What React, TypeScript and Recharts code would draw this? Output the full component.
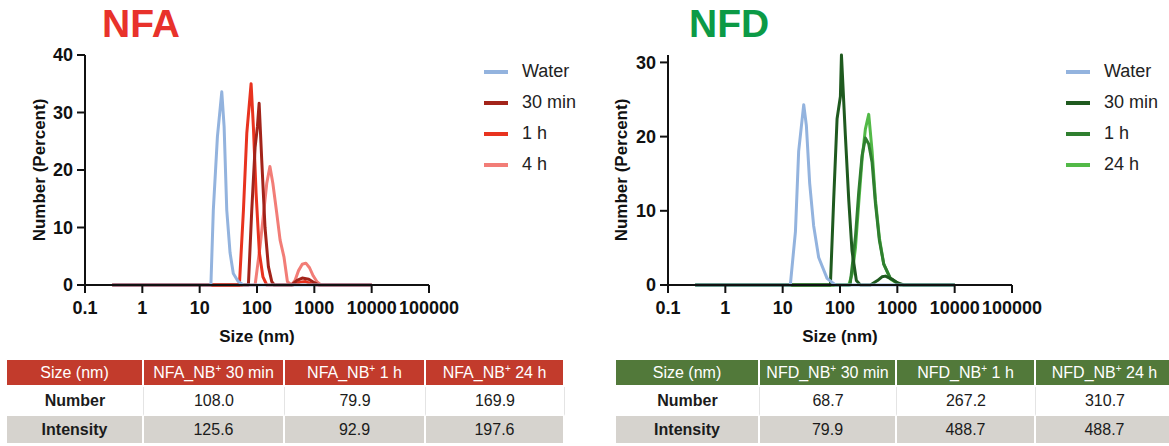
import { LineChart, Line, XAxis, YAxis, Legend, Label } from "recharts";

// [size nm, number %]
type Pt = [number, number];

const sizeTicks = [0.1, 1, 10, 100, 1000, 10000, 100000];
const nfaPctTicks = [0, 10, 20, 30, 40];
const nfdPctTicks = [0, 10, 20, 30];

const nfaWater: Pt[] = [
  [0.3, 0], [15.7, 0], [17.3, 13], [20.4, 25.8], [24.3, 33.6], [26.7, 27.5],
  [29.7, 13], [33.9, 5.6], [38.6, 2], [47, 0.6], [58, 0], [10000, 0],
];
const nfa30min: Pt[] = [
  [0.3, 0], [70.8, 0], [81, 13], [92.7, 24], [101.6, 27.5], [108.9, 31.6],
  [121, 21.7], [138, 10], [158, 3.2], [181, 0.6], [200, 0], [400, 0],
  [500, 0.8], [615, 1.2], [800, 1.0], [1000, 0.4], [1200, 0], [10000, 0],
];
const nfa1h: Pt[] = [
  [0.3, 0], [49.3, 0], [58, 13], [66.4, 26.4], [78.9, 35], [86.5, 27.5],
  [96.4, 16], [110, 5.6], [127, 1.4], [148, 0], [420, 0], [560, 0.5],
  [700, 0.6], [900, 0.2], [1100, 0], [10000, 0],
];
const nfa4h: Pt[] = [
  [0.3, 0], [92.7, 0], [113, 6.7], [138, 14.8], [148, 17.7], [168, 20.6],
  [189, 17.7], [221, 12.5], [253, 7.8], [295, 4.9], [339, 0.6], [400, 0],
  [460, 0.8], [530, 2.5], [615, 3.6], [712, 3.8], [825, 3.0], [955, 1.6],
  [1106, 0.6], [1300, 0], [10000, 0],
];

const nfdWater: Pt[] = [
  [0.3, 0], [13.6, 0], [16.7, 7.2], [19, 18], [23.3, 24.3], [25.9, 21.5],
  [29.6, 13.7], [34.7, 8], [42.5, 3.7], [59.5, 0.9], [83, 0], [10000, 0],
];
const nfd30min: Pt[] = [
  [0.3, 0], [68, 0], [77.6, 11.5], [88.9, 22.4], [101.6, 25.4], [106, 31],
  [124, 20.2], [142, 11.5], [162, 4.6], [193, 0.6], [227, 0], [339, 0],
  [450, 0.6], [540, 1.1], [620, 1.2], [800, 0.8], [1000, 0.3], [1295, 0],
  [10000, 0],
];
const nfd1h: Pt[] = [
  [0.3, 0], [150, 0], [163, 2.5], [186, 6.5], [212, 12.5], [243, 17.5],
  [277, 19.8], [317, 19], [363, 16.5], [415, 11], [487, 6], [580, 2.8],
  [758, 0.9], [1133, 0], [10000, 0],
];
const nfd24h: Pt[] = [
  [0.3, 0], [142, 0], [163, 1.5], [186, 5], [212, 11], [243, 17],
  [277, 21], [317, 23], [363, 18], [415, 11.5], [487, 6.3], [580, 2.8],
  [758, 0.8], [1106, 0], [10000, 0],
];

const nfaNames = ["Water", "30 min", "1 h", "4 h"];
const nfdNames = ["Water", "30 min", "1 h", "24 h"];

// table contents
const nfaHead = ["NFA_NB", "NFA_NB", "NFA_NB"];
const nfdHead = ["NFD_NB", "NFD_NB", "NFD_NB"];
const headTimes = ["30 min", "1 h", "24 h"];
const nfaNumber = ["108.0", "79.9", "169.9"];
const nfaIntensity = ["125.6", "92.9", "197.6"];
const nfdNumber = ["68.7", "267.2", "310.7"];
const nfdIntensity = ["79.9", "488.7", "488.7"];

const FONT = '"Liberation Sans", Arial, Helvetica, sans-serif';
const WATER = "#93b3de";

type Series = { name: string; color: string; data: Pt[] };

// drawn back to front, water on top
const nfaSeries: Series[] = [
  { name: "4 h", color: "#f27d77", data: nfa4h },
  { name: "1 h", color: "#e8331f", data: nfa1h },
  { name: "30 min", color: "#a3241a", data: nfa30min },
  { name: "Water", color: WATER, data: nfaWater },
];
const nfdSeries: Series[] = [
  { name: "24 h", color: "#52b947", data: nfd24h },
  { name: "1 h", color: "#2f7f2f", data: nfd1h },
  { name: "30 min", color: "#1f5a1f", data: nfd30min },
  { name: "Water", color: WATER, data: nfdWater },
];

const toRows = (pts: Pt[]) => pts.map(([size, pct]) => ({ size, pct }));

const axisStroke = { stroke: "#111", strokeWidth: 2 };
const tickFont = { fill: "#111", fontSize: 18, fontWeight: 700, fontFamily: FONT };

const LegendBox = ({ payload, order }: any) => {
  const items = order
    .map((n: string) => (payload || []).find((p: any) => p.value === n))
    .filter(Boolean);
  return (
    <div style={{ fontFamily: FONT }}>
      {items.map((p: any) => (
        <div key={p.value} style={{ display: "flex", alignItems: "center", height: 31 }}>
          <span style={{ display: "inline-block", width: 24, height: 4, background: p.color, marginRight: 14 }} />
          <span style={{ fontSize: 18, color: "#222" }}>{p.value}</span>
        </div>
      ))}
    </div>
  );
};

function DlsChart(props: {
  left: number;
  width: number;
  marginLeft: number;
  marginRight: number;
  legendLeft: number;
  yLabelOffset: number;
  yMax: number;
  yTicks: number[];
  series: Series[];
  names: string[];
  title: string;
  titleColor: string;
  titleLeft: number;
}) {
  return (
    <>
      <div
        style={{
          position: "absolute",
          left: props.titleLeft,
          top: 4,
          fontFamily: FONT,
          fontWeight: 700,
          fontSize: 39,
          lineHeight: "39px",
          color: props.titleColor,
        }}
      >
        {props.title}
      </div>
      <div style={{ position: "absolute", left: props.left, top: 0 }}>
        <LineChart
          width={props.width}
          height={350}
          margin={{ top: 55, right: props.marginRight, bottom: 7, left: props.marginLeft }}
        >
          <XAxis
            type="number"
            dataKey="size"
            scale="log"
            domain={[0.1, 100000]}
            ticks={sizeTicks}
            interval={0}
            allowDataOverflow
            height={58}
            tickSize={8}
            tickMargin={8}
            axisLine={axisStroke}
            tickLine={axisStroke}
            tick={tickFont}
          >
            <Label
              value="Size (nm)"
              position="insideBottom"
              offset={1}
              fill="#111"
              fontSize={17}
              fontWeight={700}
              fontFamily={FONT}
            />
          </XAxis>
          <YAxis
            type="number"
            domain={[0, props.yMax]}
            ticks={props.yTicks}
            interval={0}
            width={60}
            tickSize={8}
            tickMargin={4}
            axisLine={axisStroke}
            tickLine={axisStroke}
            tick={tickFont}
          >
            <Label
              value="Number (Percent)"
              position="insideLeft"
              angle={-90}
              offset={props.yLabelOffset}
              fill="#111"
              fontSize={17}
              fontWeight={700}
              fontFamily={FONT}
              style={{ textAnchor: "middle" }}
            />
          </YAxis>
          {props.series.map((s) => (
            <Line
              key={s.name}
              data={toRows(s.data)}
              dataKey="pct"
              name={s.name}
              type="linear"
              stroke={s.color}
              strokeWidth={3}
              strokeLinejoin="round"
              dot={false}
              activeDot={false}
              legendType="plainline"
              isAnimationActive={false}
            />
          ))}
          <Legend
            layout="vertical"
            align="center"
            verticalAlign="middle"
            wrapperStyle={{ left: props.legendLeft, top: 56, width: 110 }}
            content={(p: any) => <LegendBox {...p} order={props.names} />}
          />
        </LineChart>
      </div>
    </>
  );
}

function SizeTable(props: {
  left: number;
  top: number;
  widths: number[];
  headColor: string;
  head: string[];
  number: string[];
  intensity: string[];
}) {
  const cell = (extra: any) => ({
    padding: 0,
    textAlign: "center" as const,
    borderRight: "2px solid #fff",
    borderBottom: "2px solid #fff",
    ...extra,
  });
  return (
    <table
      style={{
        position: "absolute",
        left: props.left,
        top: props.top,
        borderCollapse: "separate",
        borderSpacing: 0,
        tableLayout: "fixed",
        width: props.widths.reduce((a, b) => a + b, 0),
        fontFamily: FONT,
        fontSize: 16,
        color: "#1b1b1b",
      }}
    >
      <colgroup>
        {props.widths.map((w, i) => (
          <col key={i} style={{ width: w }} />
        ))}
      </colgroup>
      <tbody>
        <tr style={{ height: 27, background: props.headColor, color: "#fff" }}>
          <td style={cell({})}>Size (nm)</td>
          {props.head.map((h, i) => (
            <td key={i} style={cell({})}>
              {h}
              <sup style={{ fontSize: 10 }}>+</sup> {headTimes[i]}
            </td>
          ))}
        </tr>
        <tr style={{ height: 29, background: "#fff" }}>
          <td style={cell({ fontWeight: 700, borderRight: "1px solid #e4e4e4" })}>Number</td>
          {props.number.map((v, i) => (
            <td key={i} style={cell({ borderRight: "1px solid #e4e4e4" })}>
              {v}
            </td>
          ))}
        </tr>
        <tr style={{ height: 29, background: "#d6d3ce" }}>
          <td style={cell({ fontWeight: 700 })}>Intensity</td>
          {props.intensity.map((v, i) => (
            <td key={i} style={cell({})}>
              {v}
            </td>
          ))}
        </tr>
      </tbody>
    </table>
  );
}

export default function App() {
  return (
    <div
      style={{
        position: "absolute",
        left: 0,
        top: 0,
        width: 1169,
        height: 446,
        overflow: "hidden",
        background: "#fff",
      }}
    >
      <DlsChart
        left={0}
        width={600}
        marginLeft={25}
        marginRight={171}
        legendLeft={484}
        yLabelOffset={14}
        yMax={40}
        yTicks={nfaPctTicks}
        series={nfaSeries}
        names={nfaNames}
        title="NFA"
        titleColor="#e8322b"
        titleLeft={102}
      />
      <DlsChart
        left={590}
        width={579}
        marginLeft={18}
        marginRight={157}
        legendLeft={476}
        yLabelOffset={13}
        yMax={30}
        yTicks={nfdPctTicks}
        series={nfdSeries}
        names={nfdNames}
        title="NFD"
        titleColor="#0c9a46"
        titleLeft={689}
      />
      <SizeTable
        left={7}
        top={360}
        widths={[137, 141, 141, 139]}
        headColor="#c23b2c"
        head={nfaHead}
        number={nfaNumber}
        intensity={nfaIntensity}
      />
      <SizeTable
        left={616}
        top={360}
        widths={[144, 137, 139, 139]}
        headColor="#52793a"
        head={nfdHead}
        number={nfdNumber}
        intensity={nfdIntensity}
      />
    </div>
  );
}
